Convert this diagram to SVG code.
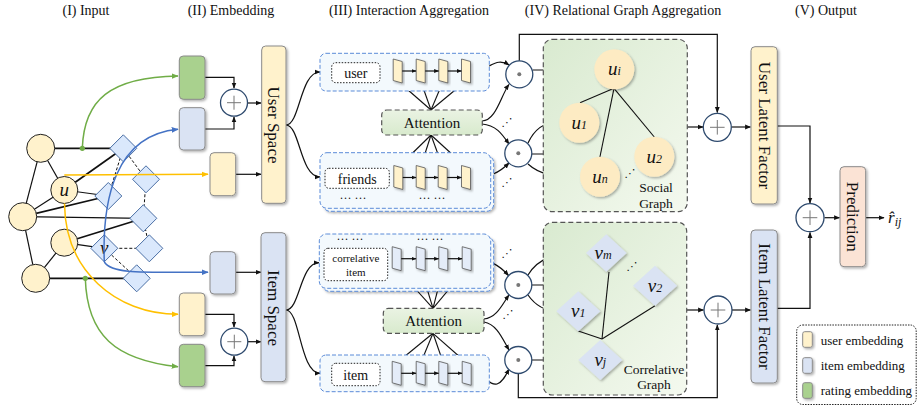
<svg xmlns="http://www.w3.org/2000/svg" width="918" height="407" viewBox="0 0 918 407">
<defs>
<marker id="ah" viewBox="0 0 10 10" refX="9" refY="5" markerWidth="6" markerHeight="6" orient="auto" markerUnits="userSpaceOnUse"><path d="M0,1 L10,5 L0,9 z" fill="#111"/></marker>
<marker id="ahs" viewBox="0 0 10 10" refX="9" refY="5" markerWidth="5" markerHeight="5" orient="auto" markerUnits="userSpaceOnUse"><path d="M0,1 L10,5 L0,9 z" fill="#111"/></marker>
<marker id="ahg" viewBox="0 0 10 10" refX="9" refY="5" markerWidth="7" markerHeight="7" orient="auto" markerUnits="userSpaceOnUse"><path d="M0,1 L10,5 L0,9 z" fill="#70AD47"/></marker>
<marker id="ahb" viewBox="0 0 10 10" refX="9" refY="5" markerWidth="7" markerHeight="7" orient="auto" markerUnits="userSpaceOnUse"><path d="M0,1 L10,5 L0,9 z" fill="#4472C4"/></marker>
<marker id="ahy" viewBox="0 0 10 10" refX="9" refY="5" markerWidth="7" markerHeight="7" orient="auto" markerUnits="userSpaceOnUse"><path d="M0,1 L10,5 L0,9 z" fill="#FFC000"/></marker>
<filter id="sh" x="-30%" y="-30%" width="160%" height="160%"><feDropShadow dx="1.5" dy="1.5" stdDeviation="1" flood-color="#000" flood-opacity="0.3"/></filter>
<linearGradient id="gAtt" x1="0" y1="0" x2="0" y2="1"><stop offset="0" stop-color="#EAF3E3"/><stop offset="1" stop-color="#D8EACD"/></linearGradient>
<linearGradient id="gGraph" x1="0" y1="0" x2="1" y2="1"><stop offset="0" stop-color="#D9EAD0"/><stop offset="1" stop-color="#F4F9EF"/></linearGradient>
<path id="elem" d="M-4.5,-12 L4.5,-9.5 L4.5,12 L-4.5,9.5 Z"/>
</defs>
<style>
text{font-family:"Liberation Serif","Times New Roman",serif;fill:#111}
.title{font-size:14px;text-anchor:middle}
.c{fill:none;stroke:#111;stroke-width:1.2}
.ct{fill:none;stroke:#111;stroke-width:1.7}
.dash{fill:none;stroke:#111;stroke-width:1;stroke-dasharray:3,2}
.unode{fill:#FFF2CC;stroke:#222;stroke-width:1}
.inode{fill:#DAE8FC;stroke:#4A6FA5;stroke-width:1}
.emb{stroke:#8a8a8a;stroke-width:1;filter:url(#sh)}
.y{fill:#FFF2CC}.b{fill:#DAE3F3}.g{fill:#A9D18E}.p{fill:#FBE3D5}
.plus{fill:#fff;stroke:#2E4A6E;stroke-width:1.3}
.pl{stroke:#777;stroke-width:1}
.ibox{fill:#F3F9FD;stroke:#5B8BD8;stroke-width:1;stroke-dasharray:4,2}
.lbl{fill:#fff;stroke:#222;stroke-width:1;stroke-dasharray:1.5,1.5}
.att{fill:url(#gAtt);stroke:#555;stroke-width:1.2;stroke-dasharray:5,3}
.graph{fill:url(#gGraph);stroke:#555;stroke-width:1.2;stroke-dasharray:5,3}
.ey{fill:#FFF2CC;stroke:#555;stroke-width:0.8;filter:url(#sh)}
.eb{fill:#E4ECF8;stroke:#555;stroke-width:0.8;filter:url(#sh)}
.gu{fill:#FDEBC3;filter:url(#sh)}
.gv{fill:#DAE3F3;filter:url(#sh)}
.math{font-style:italic;font-size:19px;text-anchor:middle}
.sub{font-size:12px}
.vt{font-size:17px;text-anchor:middle;dominant-baseline:central}
.dots{font-family:"DejaVu Sans",sans-serif;font-size:11px;text-anchor:middle}
</style>

<g id="titles">
<text class="title" x="86" y="15">(I) Input</text>
<text class="title" x="231" y="15">(II) Embedding</text>
<text class="title" x="409" y="15">(III) Interaction Aggregation</text>
<text class="title" x="623" y="15">(IV) Relational Graph Aggregation</text>
<text class="title" x="826" y="15">(V) Output</text>
</g>

<g id="input-edges">
<line class="ct" x1="40.7" y1="148.3" x2="123.3" y2="148.3"/>
<line class="c" x1="40.7" y1="148.3" x2="64.3" y2="190"/>
<line class="c" x1="40.7" y1="148.3" x2="22.7" y2="216.7"/>
<line class="c" x1="22.7" y1="216.7" x2="64.3" y2="190"/>
<line class="c" x1="22.7" y1="216.7" x2="35.7" y2="278.3"/>
<line class="c" x1="64.3" y1="242.7" x2="35.7" y2="278.3"/>
<line class="ct" x1="64.3" y1="190" x2="123.3" y2="148.3"/>
<line class="c" x1="64.3" y1="190" x2="108.3" y2="196"/>
<line class="ct" x1="22.7" y1="216.7" x2="108.3" y2="196"/>
<line class="c" x1="22.7" y1="216.7" x2="143.3" y2="218.3"/>
<line class="ct" x1="64.3" y1="242.7" x2="143.3" y2="218.3"/>
<line class="c" x1="64.3" y1="242.7" x2="104.3" y2="248.3"/>
<line class="ct" x1="35.7" y1="278.3" x2="136.7" y2="278.3" stroke="#333"/>
<line class="dash" x1="123.3" y1="148.3" x2="146" y2="179.3"/>
<line class="dash" x1="123.3" y1="148.3" x2="108.3" y2="196"/>
<line class="dash" x1="146" y1="179.3" x2="143.3" y2="218.3"/>
<line class="dash" x1="143.3" y1="218.3" x2="149.3" y2="248.3"/>
<line class="dash" x1="104.3" y1="248.3" x2="149.3" y2="248.3"/>
<line class="dash" x1="104.3" y1="248.3" x2="136.7" y2="278.3"/>
</g>

<g id="input-users">
<circle class="unode" cx="40.7" cy="148.3" r="14"/>
<circle class="unode" cx="64.3" cy="190" r="13.5"/>
<circle class="unode" cx="22.7" cy="216.7" r="14"/>
<circle class="unode" cx="64.3" cy="242.7" r="13.5"/>
<circle class="unode" cx="35.7" cy="278.3" r="14"/>
<text class="math" x="64.3" y="196" font-size="18">u</text>
</g>
<g id="input-items">
<path class="inode" d="M123.3,134.8 L136.8,148.3 L123.3,161.8 L109.8,148.3 Z"/>
<path class="inode" d="M146,165.8 L159.5,179.3 L146,192.8 L132.5,179.3 Z"/>
<path class="inode" d="M108.3,182.5 L121.8,196 L108.3,209.5 L94.8,196 Z"/>
<path class="inode" d="M143.3,204.8 L156.8,218.3 L143.3,231.8 L129.8,218.3 Z"/>
<path class="inode" d="M104.3,234.8 L117.8,248.3 L104.3,261.8 L90.8,248.3 Z"/>
<path class="inode" d="M149.3,234.8 L162.8,248.3 L149.3,261.8 L135.8,248.3 Z"/>
<path class="inode" d="M136.7,264.8 L150.2,278.3 L136.7,291.8 L123.2,278.3 Z"/>
<text class="math" x="104.3" y="254" font-size="18">v</text>
</g>

<g id="input-links">
<path d="M82.3,148.3 C84,100 110,77 178,76" fill="none" stroke="#70AD47" stroke-width="1.5" marker-end="url(#ahg)"/>
<circle cx="82.3" cy="148.3" r="2.6" fill="#70AD47"/>
<path d="M85.3,278.3 C87,335 115,360 178,366.7" fill="none" stroke="#70AD47" stroke-width="1.5" marker-end="url(#ahg)"/>
<circle cx="85.3" cy="278.3" r="2.6" fill="#70AD47"/>
<path d="M104.3,262 C102,200 115,135 178,129.3" fill="none" stroke="#4472C4" stroke-width="1.5" marker-end="url(#ahb)"/>
<path d="M104.3,262 C112,274 140,272.3 208,272.3" fill="none" stroke="#4472C4" stroke-width="1.5" marker-end="url(#ahb)"/>
<path d="M64.3,175 L208,174.3" fill="none" stroke="#FFC000" stroke-width="1.5" marker-end="url(#ahy)"/>
<path d="M64.5,203.5 C65,270 115,314 178,314.3" fill="none" stroke="#FFC000" stroke-width="1.5" marker-end="url(#ahy)"/>
</g>

<g id="connectors">
<path class="c" d="M205,77.3 H234 V88" marker-end="url(#ah)"/>
<path class="c" d="M205,129 H234 V117" marker-end="url(#ah)"/>
<path class="c" d="M247.5,103 H261" marker-end="url(#ah)"/>
<path class="c" d="M236,174.3 H261" marker-end="url(#ah)"/>
<path class="c" d="M205,314.3 H234 V327" marker-end="url(#ah)"/>
<path class="c" d="M205,365.7 H234 V356" marker-end="url(#ah)"/>
<path class="c" d="M247.5,341.7 H261" marker-end="url(#ah)"/>
<path class="c" d="M236,272.3 H261" marker-end="url(#ah)"/>
<path class="c" d="M286,125 C300,125 300,72 320,72" marker-end="url(#ah)"/>
<path class="c" d="M286,125 C300,125 300,177 320,177" marker-end="url(#ah)"/>
<path class="c" d="M286,310 C300,310 300,262.7 319,262.7" marker-end="url(#ah)"/>
<path class="c" d="M286,310 C300,310 300,373.3 320,373.3" marker-end="url(#ah)"/>
<!-- attention fans -->
<g stroke="#111" stroke-width="1.1">
<line x1="431" y1="110" x2="397.7" y2="81"/><line x1="431" y1="110" x2="420.7" y2="81"/><line x1="431" y1="110" x2="443.3" y2="81"/><line x1="431" y1="110" x2="466" y2="81"/>
<line x1="431" y1="135" x2="398.3" y2="167"/><line x1="431" y1="135" x2="420.7" y2="167"/><line x1="431" y1="135" x2="442.7" y2="167"/><line x1="431" y1="135" x2="466" y2="167"/>
<line x1="433" y1="308.3" x2="396.7" y2="268"/><line x1="433" y1="308.3" x2="420.7" y2="268"/><line x1="433" y1="308.3" x2="443.3" y2="268"/><line x1="433" y1="308.3" x2="466.7" y2="268"/>
<line x1="433" y1="333.3" x2="396.7" y2="363"/><line x1="433" y1="333.3" x2="420.7" y2="363"/><line x1="433" y1="333.3" x2="443.3" y2="363"/><line x1="433" y1="333.3" x2="466.7" y2="363"/>
</g>
<!-- to dot circles -->
<path class="c" d="M470.5,71 C490,71 495,56 509,65" marker-end="url(#ah)"/>
<path class="c" d="M482,121 C496,121 501,95 509,84.5" marker-end="url(#ah)"/>
<path class="c" d="M482,124 C496,125 502,134 509,144" marker-end="url(#ah)"/>
<path class="c" d="M470.5,177.5 C490,178 500,172 509,163" marker-end="url(#ah)"/>
<path class="c" d="M471,258.7 C490,259 500,266 508.5,275.5" marker-end="url(#ah)"/>
<path class="c" d="M484,319 C497,318 503,303 509,295" marker-end="url(#ah)"/>
<path class="c" d="M484,322 C497,324 503,340 509,350" marker-end="url(#ah)"/>
<path class="c" d="M471,373.3 C485,373 488,386 497,384 C503,382 506,375 509,369" marker-end="url(#ah)"/>
<!-- dot to graph nodes -->
<path class="c" d="M533,70 L594,70" marker-end="url(#ah)"/>
<path class="c" d="M528,143 C535,128 545,122 558,122" marker-end="url(#ah)"/>
<path class="c" d="M532,154 L634,154" marker-end="url(#ah)"/>
<path class="c" d="M528,164 C540,175 555,177 579,177" marker-end="url(#ah)"/>
<path class="c" d="M528,275 C538,258 560,250 585,250" marker-end="url(#ah)"/>
<path class="c" d="M532,285 L635,285" marker-end="url(#ah)"/>
<path class="c" d="M528,295 C535,305 545,311 557,311" marker-end="url(#ah)"/>
<path class="c" d="M532,360 L578,360" marker-end="url(#ah)"/>
<!-- skip to output -->
<path class="c" d="M519.3,61 V34.3 H717.3 V112.5" marker-end="url(#ah)"/>
<path class="c" d="M518.3,374 V397.7 H717.3 V325" marker-end="url(#ah)"/>
<path class="c" d="M687.3,127 H703" marker-end="url(#ah)"/>
<path class="c" d="M686.7,310 H703.5" marker-end="url(#ah)"/>
<path class="c" d="M731.5,127 H750.5" marker-end="url(#ah)"/>
<path class="c" d="M732,310 H750.5" marker-end="url(#ah)"/>
<path class="c" d="M777.3,126 H810 V203" marker-end="url(#ah)"/>
<path class="c" d="M777,308.3 H810 V232.5" marker-end="url(#ah)"/>
<path class="c" d="M824.5,217.7 H839.5" marker-end="url(#ah)"/>
<path class="c" d="M866,217.7 H884" marker-end="url(#ah)"/>
</g>

<g id="embeddings">
<rect class="emb g" x="179.3" y="56" width="25.7" height="43.3" rx="4"/>
<rect class="emb b" x="179.3" y="107.7" width="25.7" height="42.3" rx="4"/>
<rect class="emb y" x="210" y="152.7" width="25.7" height="43" rx="4"/>
<rect class="emb b" x="210" y="251.7" width="25.7" height="42.3" rx="4"/>
<rect class="emb y" x="179.3" y="293" width="25.7" height="42.7" rx="4"/>
<rect class="emb g" x="179.3" y="344.3" width="25.7" height="42.4" rx="4"/>
</g>
<g id="plus-emb-top"><circle class="plus" cx="234" cy="102.7" r="13.5"/><line class="pl" x1="227" y1="102.7" x2="241" y2="102.7"/><line class="pl" x1="234" y1="95.7" x2="234" y2="109.7"/></g>
<g id="plus-emb-bot"><circle class="plus" cx="234.3" cy="341.7" r="13.5"/><line class="pl" x1="227.3" y1="341.7" x2="241.3" y2="341.7"/><line class="pl" x1="234.3" y1="334.7" x2="234.3" y2="348.7"/></g>

<g id="user-space"><rect class="emb y" x="261.7" y="46" width="24.3" height="157.3" rx="4"/><text class="vt" transform="translate(273.8,125) rotate(90)">User Space</text></g>
<g id="item-space"><rect class="emb b" x="261" y="232.7" width="25" height="149" rx="4"/><text class="vt" transform="translate(273.5,308) rotate(90)">Item Space</text></g>

<g id="user-row">
<rect class="ibox" x="320" y="53.3" width="169.3" height="37.7" rx="6"/>
<rect class="lbl" x="331.7" y="62.7" width="48.3" height="20" rx="4"/>
<text x="355.8" y="78" font-size="14" text-anchor="middle">user</text>
<use href="#elem" class="ey" x="397.7" y="71"/><use href="#elem" class="ey" x="420.7" y="71"/><use href="#elem" class="ey" x="443.3" y="71"/><use href="#elem" class="ey" x="466" y="71"/>
<g class="c"><line x1="402.2" y1="71" x2="416" y2="71" marker-end="url(#ahs)"/><line x1="425.2" y1="71" x2="438.6" y2="71" marker-end="url(#ahs)"/><line x1="447.8" y1="71" x2="461.3" y2="71" marker-end="url(#ahs)"/></g>
</g>
<g id="friends-row">
<rect class="ibox" x="323" y="155.7" width="170.7" height="55.6" rx="7" filter="url(#sh)"/>
<rect class="ibox" x="320" y="152.7" width="170.7" height="55.6" rx="7"/>
<rect class="lbl" x="325" y="168.3" width="64.3" height="20" rx="4"/>
<text x="357.2" y="183.5" font-size="14" text-anchor="middle">friends</text>
<text x="353" y="202" font-size="12" text-anchor="middle">··· ···</text>
<text x="432" y="202" font-size="12" text-anchor="middle">··· ···</text>
<use href="#elem" class="ey" x="398.3" y="177.5"/><use href="#elem" class="ey" x="420.7" y="177.5"/><use href="#elem" class="ey" x="442.7" y="177.5"/><use href="#elem" class="ey" x="466" y="177.5"/>
<g class="c"><line x1="402.8" y1="177.5" x2="416" y2="177.5" marker-end="url(#ahs)"/><line x1="425.2" y1="177.5" x2="438" y2="177.5" marker-end="url(#ahs)"/><line x1="447.2" y1="177.5" x2="461.3" y2="177.5" marker-end="url(#ahs)"/></g>
</g>
<g id="attention-user"><rect class="att" x="381.7" y="110" width="100.6" height="25" rx="5"/><text x="432" y="128" font-size="15" text-anchor="middle">Attention</text></g>

<g id="corr-row">
<rect class="ibox" x="322.3" y="237" width="171.4" height="54.3" rx="7" filter="url(#sh)"/>
<rect class="ibox" x="319.3" y="234" width="171.4" height="54.3" rx="7"/>
<text x="350" y="243" font-size="12" text-anchor="middle">··· ···</text>
<text x="430" y="243" font-size="12" text-anchor="middle">··· ···</text>
<rect class="lbl" x="324" y="248.3" width="63.7" height="32.4" rx="4"/>
<text x="355.8" y="262" font-size="11" text-anchor="middle">correlative</text>
<text x="355.8" y="275.5" font-size="11" text-anchor="middle">item</text>
<use href="#elem" class="eb" x="396.7" y="258.7"/><use href="#elem" class="eb" x="420.7" y="258.7"/><use href="#elem" class="eb" x="443.3" y="258.7"/><use href="#elem" class="eb" x="466.7" y="258.7"/>
<g class="c"><line x1="401.2" y1="258.7" x2="416" y2="258.7" marker-end="url(#ahs)"/><line x1="425.2" y1="258.7" x2="438.6" y2="258.7" marker-end="url(#ahs)"/><line x1="447.8" y1="258.7" x2="462" y2="258.7" marker-end="url(#ahs)"/></g>
</g>
<g id="item-row">
<rect class="ibox" x="320" y="355" width="169.3" height="36.7" rx="6"/>
<rect class="lbl" x="331.7" y="363.3" width="48.3" height="22.4" rx="4"/>
<text x="355.8" y="379.5" font-size="14" text-anchor="middle">item</text>
<use href="#elem" class="eb" x="396.7" y="373.3"/><use href="#elem" class="eb" x="420.7" y="373.3"/><use href="#elem" class="eb" x="443.3" y="373.3"/><use href="#elem" class="eb" x="466.7" y="373.3"/>
<g class="c"><line x1="401.2" y1="373.3" x2="416" y2="373.3" marker-end="url(#ahs)"/><line x1="425.2" y1="373.3" x2="438.6" y2="373.3" marker-end="url(#ahs)"/><line x1="447.8" y1="373.3" x2="462" y2="373.3" marker-end="url(#ahs)"/></g>
</g>
<g id="attention-item"><rect class="att" x="383.3" y="308.3" width="100.7" height="25" rx="5"/><text x="433.6" y="326.3" font-size="15" text-anchor="middle">Attention</text></g>

<g id="ellipses">
<text class="dots" x="507" y="126">⋰</text>
<text class="dots" x="507" y="186">⋰</text>
<text class="dots" x="507" y="257">⋰</text>
<text class="dots" x="508" y="318">⋰</text>
</g>

<g id="dot-circles">
<circle class="plus" cx="519.3" cy="74.3" r="13.5"/><circle cx="519.3" cy="74.3" r="2" fill="#777"/>
<circle class="plus" cx="518.3" cy="153.3" r="13.5"/><circle cx="518.3" cy="153.3" r="2" fill="#777"/>
<circle class="plus" cx="518.3" cy="285" r="13.5"/><circle cx="518.3" cy="285" r="2" fill="#777"/>
<circle class="plus" cx="518.3" cy="360" r="13.5"/><circle cx="518.3" cy="360" r="2" fill="#777"/>
</g>

<g id="social-graph">
<rect class="graph" x="543.3" y="39.3" width="144" height="172.4" rx="9"/>
<g stroke="#111" stroke-width="1.1"><line x1="614" y1="88.3" x2="580" y2="102.7"/><line x1="614" y1="88.3" x2="599.3" y2="160"/><line x1="614" y1="88.3" x2="654.3" y2="137"/></g>
<circle class="gu" cx="614.3" cy="69.3" r="20"/>
<circle class="gu" cx="579.3" cy="122.7" r="20"/>
<circle class="gu" cx="654.3" cy="156.7" r="20"/>
<circle class="gu" cx="600" cy="176.7" r="20"/>
<text class="math" x="614.3" y="75">u<tspan class="sub">i</tspan></text>
<text class="math" x="579.3" y="128.5">u<tspan class="sub">1</tspan></text>
<text class="math" x="654.3" y="162.5">u<tspan class="sub">2</tspan></text>
<text class="math" x="600" y="182.5">u<tspan class="sub">n</tspan></text>
<text class="dots" x="630" y="177">⋰</text>
<text x="656" y="192" font-size="13.5" text-anchor="middle">Social</text>
<text x="656" y="207.5" font-size="13.5" text-anchor="middle">Graph</text>
</g>

<g id="correlative-graph">
<rect class="graph" x="543.3" y="222.3" width="143.4" height="172.7" rx="9"/>
<g stroke="#111" stroke-width="1.1"><line x1="602" y1="339" x2="609" y2="272"/><line x1="602" y1="339" x2="578.3" y2="331"/><line x1="602" y1="339" x2="655" y2="305.7"/></g>
<path class="gv" d="M606.3,234.3 L626.6,253 L606.3,271.7 L586,253 Z"/>
<path class="gv" d="M655,265.7 L677,285.7 L655,305.7 L633,285.7 Z"/>
<path class="gv" d="M578.3,291.3 L600.3,311.3 L578.3,331.3 L556.3,311.3 Z"/>
<path class="gv" d="M600.3,340 L622.3,360 L600.3,380 L578.3,360 Z"/>
<text class="math" x="603" y="259">v<tspan class="sub">m</tspan></text>
<text class="math" x="655" y="292">v<tspan class="sub">2</tspan></text>
<text class="math" x="578.3" y="317">v<tspan class="sub">1</tspan></text>
<text class="math" x="600.3" y="366">v<tspan class="sub">j</tspan></text>
<text class="dots" x="632" y="270">⋰</text>
<text x="654" y="373.5" font-size="13.5" text-anchor="middle">Correlative</text>
<text x="654" y="389" font-size="13.5" text-anchor="middle">Graph</text>
</g>

<g id="plus-user"><circle class="plus" cx="717.3" cy="127.3" r="14"/><line class="pl" x1="710" y1="127.3" x2="724.6" y2="127.3"/><line class="pl" x1="717.3" y1="120" x2="717.3" y2="134.6"/></g>
<g id="plus-item"><circle class="plus" cx="718" cy="310" r="14"/><line class="pl" x1="710.7" y1="310" x2="725.3" y2="310"/><line class="pl" x1="718" y1="302.7" x2="718" y2="317.3"/></g>
<g id="plus-out"><circle class="plus" cx="810" cy="217.7" r="14"/><line class="pl" x1="802.7" y1="217.7" x2="817.3" y2="217.7"/><line class="pl" x1="810" y1="210.4" x2="810" y2="225"/></g>

<g id="user-latent"><rect class="emb y" x="751" y="46.7" width="26.3" height="157.3" rx="4"/><text class="vt" transform="translate(764.2,125.5) rotate(90)">User Latent Factor</text></g>
<g id="item-latent"><rect class="emb b" x="751" y="230" width="26.3" height="153" rx="4"/><text class="vt" transform="translate(764.2,306.5) rotate(90)">Item Latent Factor</text></g>
<g id="prediction"><rect class="emb p" x="840" y="166.7" width="25.7" height="100" rx="4"/><text class="vt" transform="translate(852.8,216.7) rotate(90)">Prediction</text></g>
<g id="output"><text x="888" y="223" font-size="17" font-style="italic">r̂<tspan font-size="12" dy="3">ij</tspan></text></g>

<g id="legend">
<rect x="796.7" y="325" width="119.5" height="79.5" rx="6" fill="#fff" stroke="#222" stroke-width="1" stroke-dasharray="1.5,1.2"/>
<rect class="emb y" x="802.7" y="331.7" width="9.6" height="15.6" rx="2"/>
<rect class="emb b" x="802.7" y="357.7" width="9.6" height="15.6" rx="2"/>
<rect class="emb g" x="802.7" y="382.7" width="9.6" height="15.6" rx="2"/>
<text x="820.7" y="344.5" font-size="13">user embedding</text>
<text x="820.7" y="370" font-size="13">item embedding</text>
<text x="820.7" y="395" font-size="13">rating embedding</text>
</g>
</svg>
